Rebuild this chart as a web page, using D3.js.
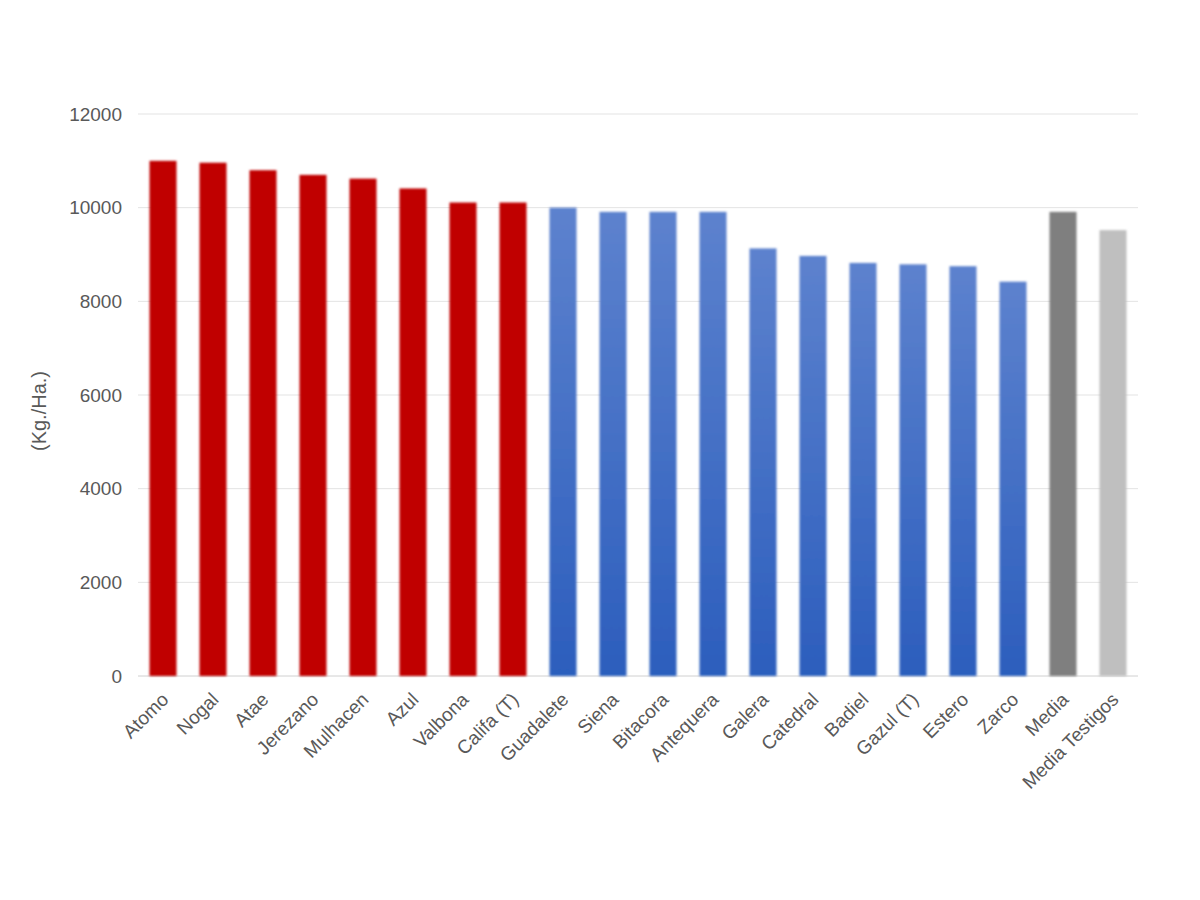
<!DOCTYPE html>
<html>
<head>
<meta charset="utf-8">
<script src="https://cdn.jsdelivr.net/npm/d3@7"></script>
<style>
  body { margin: 0; background: #fff; }
  svg text { font-family: "Liberation Sans", Arial, sans-serif; }
</style>
</head>
<body>
<script>
// varieties, in the order shown
const categories = ["Atomo", "Nogal", "Atae", "Jerezano", "Mulhacen", "Azul", "Valbona", "Califa (T)",
  "Guadalete", "Siena", "Bitacora", "Antequera", "Galera", "Catedral", "Badiel", "Gazul (T)",
  "Estero", "Zarco", "Media", "Media Testigos"]
const values = [11000, 10960, 10800, 10700, 10620, 10410, 10110, 10110,
  10000, 9910, 9910, 9910, 9130, 8970, 8820, 8790,
  8750, 8420, 9910, 9520]
// group of each bar: r = red, b = blue, m = media, t = media testigos
const groups = ["r", "r", "r", "r", "r", "r", "r", "r",
  "b", "b", "b", "b", "b", "b", "b", "b",
  "b", "b", "m", "t"]
const yTicks = [0, 2000, 4000, 6000, 8000, 10000, 12000]
const yTitle = "(Kg./Ha.)"

const width = 1200, height = 900
const margin = {top: 114, right: 62, bottom: 224, left: 138}

const svg = d3.select("body").append("svg")
    .attr("width", width)
    .attr("height", height)

// Gradient for the blue bars
const defs = svg.append("defs")
const grad = defs.append("linearGradient")
    .attr("id", "blueGrad")
    .attr("x1", 0).attr("y1", 0).attr("x2", 0).attr("y2", 1)
grad.append("stop").attr("offset", "0%").attr("stop-color", "#5d82ce")
grad.append("stop").attr("offset", "100%").attr("stop-color", "#2c5ebd")

const blur = defs.append("filter").attr("id", "soft")
    .attr("x", "-20%").attr("y", "-5%").attr("width", "140%").attr("height", "110%")
blur.append("feGaussianBlur").attr("stdDeviation", 0.8)

const fills = {r: "#c00000", b: "url(#blueGrad)", m: "#7f7f7f", t: "#bfbfbf"}

const x = d3.scaleBand()
    .domain(categories)
    .range([margin.left, width - margin.right])
    .paddingInner(0.46)
    .paddingOuter(0.23)

const y = d3.scaleLinear()
    .domain([0, 12000])
    .range([height - margin.bottom, margin.top])

// Gridlines
svg.append("g")
    .selectAll("line")
    .data(yTicks)
    .join("line")
    .attr("x1", margin.left)
    .attr("x2", width - margin.right)
    .attr("y1", d => y(d))
    .attr("y2", d => y(d))
    .attr("stroke", d => d === 0 ? "#d0d0d0" : "#e3e3e3")
    .attr("stroke-width", 1)

// Y tick labels
svg.append("g")
    .selectAll("text")
    .data(yTicks)
    .join("text")
    .attr("x", margin.left - 16)
    .attr("y", d => y(d))
    .attr("dy", "0.35em")
    .attr("text-anchor", "end")
    .attr("font-size", 19)
    .attr("fill", "#595959")
    .text(d => d)

// Bars
svg.append("g")
    .selectAll("rect")
    .data(categories)
    .join("rect")
    .attr("x", d => x(d))
    .attr("width", x.bandwidth())
    .attr("y", (d, i) => y(values[i]))
    .attr("height", (d, i) => y(0) - y(values[i]))
    .attr("fill", (d, i) => fills[groups[i]])
    .attr("filter", "url(#soft)")

// X labels, rotated
svg.append("g")
    .selectAll("text")
    .data(categories)
    .join("text")
    .attr("transform", d => `translate(${x(d) + x.bandwidth() / 2 + 2},${y(0) + 20}) rotate(-45)`)
    .attr("text-anchor", "end")
    .attr("dy", "0.35em")
    .attr("font-size", 19)
    .attr("fill", "#595959")
    .text(d => d)

// Y axis title
svg.append("text")
    .attr("transform", `translate(46,${(y(0) + y(12000)) / 2 + 16}) rotate(-90)`)
    .attr("text-anchor", "middle")
    .attr("font-size", 20)
    .attr("fill", "#595959")
    .text(yTitle)
</script>
</body>
</html>
